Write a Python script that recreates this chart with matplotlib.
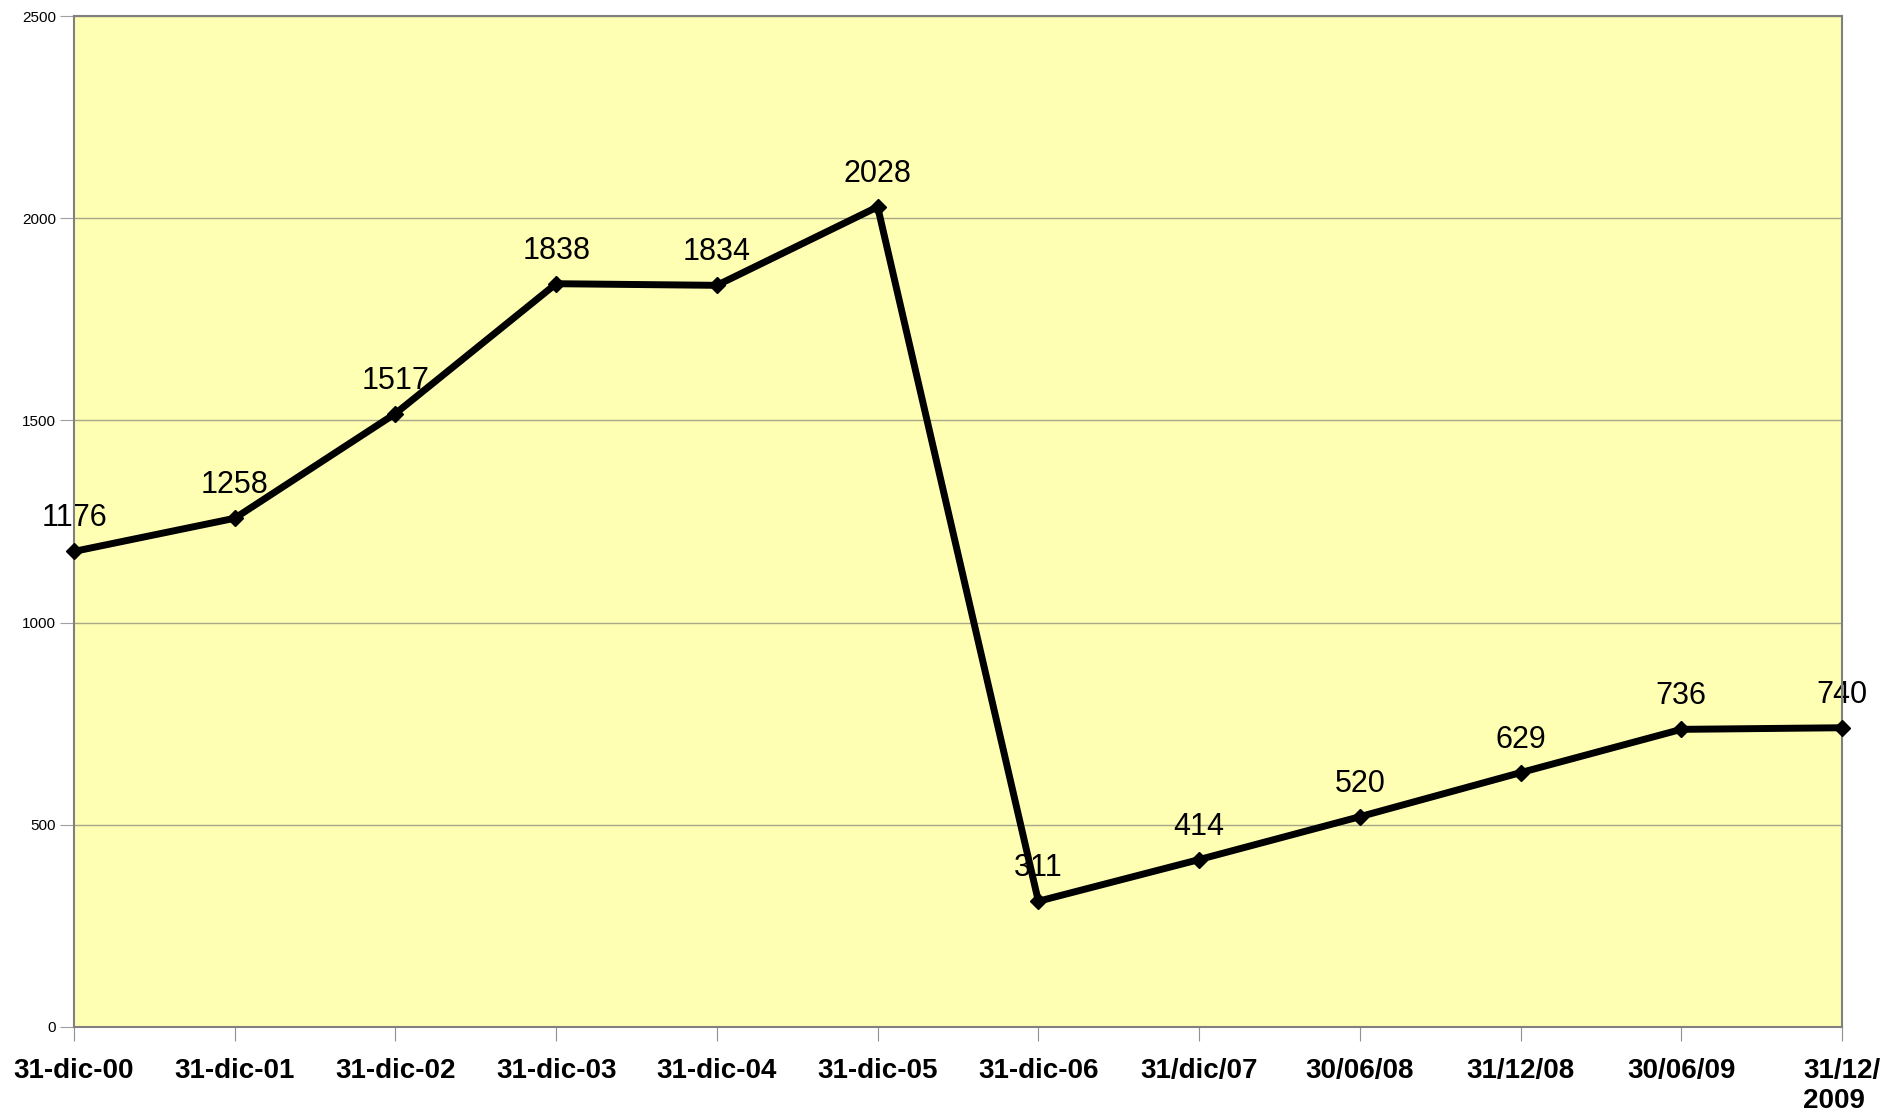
import matplotlib
matplotlib.use("Agg")
import matplotlib.pyplot as plt

plt.rcParams["font.family"] = ["Liberation Sans", "DejaVu Sans"]

dates = ["31-dic-00", "31-dic-01", "31-dic-02", "31-dic-03", "31-dic-04", "31-dic-05",
         "31-dic-06", "31/dic/07", "30/06/08", "31/12/08", "30/06/09", "31/12/\n2009"]
values = [1176, 1258, 1517, 1838, 1834, 2028, 311, 414, 520, 629, 736, 740]
yticks = [0, 500, 1000, 1500, 2000, 2500]

W, H, DPI = 1894, 1116, 100
fig = plt.figure(figsize=(W / DPI, H / DPI), dpi=DPI)
ax = fig.add_axes([74 / W, 1 - 1027 / H, (1842 - 74) / W, (1027 - 16) / H])
ax.set_facecolor("#FFFFB4")

x = list(range(len(values)))
ax.plot(x, values, color="black", lw=5, marker="D", ms=8, zorder=3, clip_on=False)
for xi, v in zip(x, values):
    ax.annotate(str(v), (xi, v), xytext=(0, 18), textcoords="offset points",
                ha="center", va="baseline", fontsize=22, zorder=2)

ax.set_xlim(0, len(values) - 1)
ax.set_ylim(0, 2500)
ax.set_yticks(yticks)
ax.set_yticklabels([str(t) for t in yticks], fontsize=11)
ax.set_xticks(x)
ax.set_xticklabels(dates, fontsize=20, fontweight="bold", multialignment="left")
ax.yaxis.grid(True, color="#A8A888", lw=1)
ax.set_axisbelow(True)
ax.tick_params(axis="x", length=10, color="#909090", pad=12)
ax.tick_params(axis="y", length=10, color="#A0A0A0", pad=3)
for s in ax.spines.values():
    s.set_color("#808080")
    s.set_linewidth(1.5)

fig.savefig("out.png", dpi=DPI)
